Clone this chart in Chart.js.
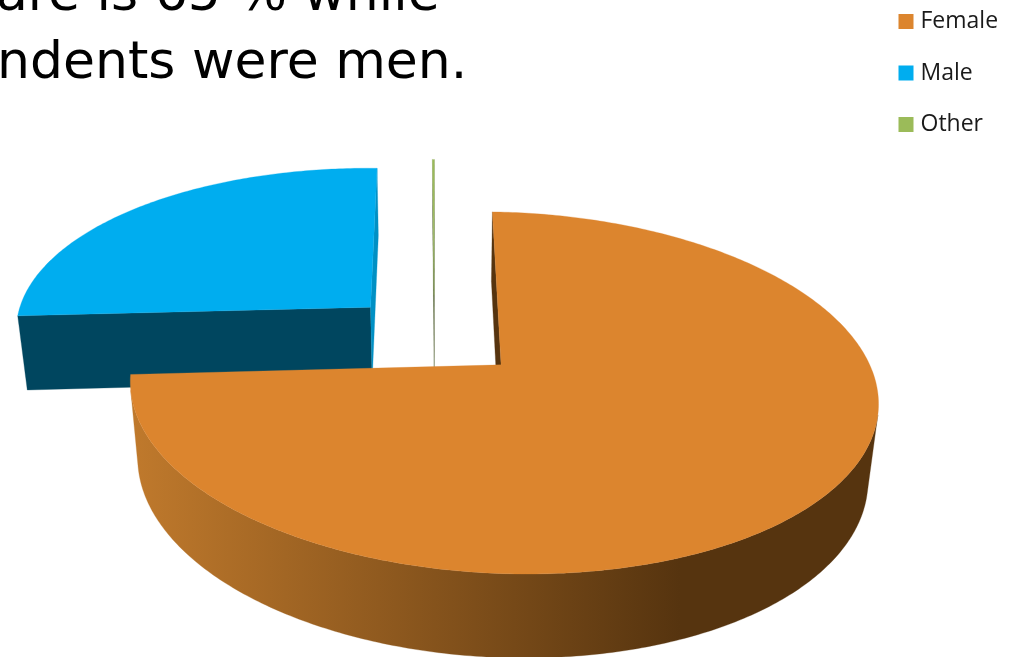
<!DOCTYPE html>
<html><head><meta charset="utf-8">
<style>
html,body{margin:0;padding:0;background:#fff;overflow:hidden}
#wrap{position:relative;width:1011px;height:657px;overflow:hidden}
canvas{position:absolute;left:0;top:0}
.t{position:absolute;font-family:"DejaVu Sans";font-size:52px;line-height:60px;color:#000;white-space:nowrap}
</style></head><body>
<div id="wrap">
<canvas id="c" width="1011" height="657"></canvas>
<div class="t" style="left:-4px;top:-38px">are is 65 % while</div>
<div class="t" style="left:-3px;top:30px">ndents were men.</div>
</div>
<script src="https://cdn.jsdelivr.net/npm/chart.js@4"></script>
<script>
const categories = ['Female','Male','Other'];
const shares = [73.6, 26.3, 0.1];
const capColors = ['#DC852E','#00ADEF','#9BBB59'];

// camera for the tilted view
const cam = {x0:501,y0:365,a:369.5,b:-10,c:6,d:-176.7,m:-0.0046,k:0.1547,ox:-0.181,oy:0.1667,fz:-1.4,ez:78,qz:0.024};
function P(u,v,down){ // u,v: pie plane coordinates in radii around the pie centre
  const s=u+cam.ox, t=v+cam.oy, z=down?1:0;
  const w=1+cam.m*s+cam.k*t+cam.qz*z;
  return [cam.x0+(cam.a*s+cam.b*t+cam.fz*z)/w, cam.y0+(cam.c*s+cam.d*t+cam.ez*z)/w];
}
function poly(ctx,pts,fill,seam){
  ctx.beginPath();
  pts.forEach((p,i)=>i?ctx.lineTo(p[0],p[1]):ctx.moveTo(p[0],p[1]));
  ctx.closePath();
  ctx.fillStyle=fill;ctx.fill();
  if(seam){ctx.strokeStyle=fill;ctx.lineWidth=seam;ctx.stroke();}
}
const sideStyles = [
  {wall:null,start:'#56340F',end:'#56340F',seam:0.3},
  {wall:'#00465F',start:'#00465F',end:'#0090C4',seam:0.3},
  {wall:'#4F5E2E',start:'#4F5E2E',end:'#4F5E2E',seam:0.2}
];
const pie3d = {
  id:'pie3d',
  afterLayout(chart){
    chart.legend.left=874.5;
    chart.legend.top=-18.5;
  },
  beforeDatasetsDraw(chart){
    const ctx=chart.ctx, els=chart.getDatasetMeta(0).data;
    const order=[1,2,0];
    order.forEach(i=>{
      const el=els[i], st=sideStyles[i];
      const off=el.options.offset/el.outerRadius;
      const a0=el.startAngle,a1=el.endAngle,mid=(a0+a1)/2;
      const ax=off*Math.cos(mid),ay=-off*Math.sin(mid);
      const at=(a,down)=>P(ax+Math.cos(a),ay-Math.sin(a),down);
      const apexT=P(ax,ay,false),apexB=P(ax,ay,true);
      const N=Math.max(2,Math.ceil((a1-a0)*80));
      const topArc=[],botArc=[];
      for(let j=0;j<=N;j++){const a=a0+(a1-a0)*j/N;topArc.push(at(a,false));botArc.push(at(a,true));}
      // outer wall: only the run of strips that look toward the camera
      let wallFill=st.wall;
      if(!wallFill){
        const g=ctx.createLinearGradient(135,0,680,0);
        g.addColorStop(0,'#BF792C');g.addColorStop(1,'#56340F');
        wallFill=g;
      }
      let first=-1,last=-1;
      for(let j=0;j<N;j++){
        const p=topArc[j],q=topArc[j+1],s=botArc[j];
        const ex=q[0]-p[0],ey=q[1]-p[1],dx=s[0]-p[0],dy=s[1]-p[1];
        if(ex*dy-ey*dx<0){ if(first<0) first=j; last=j; }
      }
      if(first>=0){
        poly(ctx,topArc.slice(first,last+2).concat(botArc.slice(first,last+2).reverse()),wallFill,st.seam);
      }
      // cut faces that look toward the camera
      [[a0,st.start,-1],[a1,st.end,1]].forEach(([a,col,sign])=>{
        const o=at(a,false),ob=at(a,true);
        const ex=o[0]-apexT[0],ey=o[1]-apexT[1];
        const dx=(ob[0]+apexB[0]-o[0]-apexT[0])/2,dy=(ob[1]+apexB[1]-o[1]-apexT[1])/2;
        if((ex*dy-ey*dx)*sign>0) poly(ctx,[apexT,o,ob,apexB],col,st.seam);
      });
      // top face
      poly(ctx,[apexT].concat(topArc),el.options.backgroundColor,st.seam);
    });
    return false;
  }
};
new Chart(document.getElementById('c'),{
  type:'pie',
  data:{labels:categories,datasets:[{data:shares,backgroundColor:capColors,borderWidth:0,offset:71.9}]},
  options:{
    responsive:false,animation:false,
    plugins:{
      tooltip:{enabled:false},
      legend:{position:'right',align:'start',
        labels:{usePointStyle:true,pointStyle:'rect',boxWidth:6,boxHeight:15,padding:28.5,color:'#1a1a1a',
          font:{family:'"Open Sans"',size:23}}}
    }
  },
  plugins:[pie3d]
});
</script>
</body></html>
